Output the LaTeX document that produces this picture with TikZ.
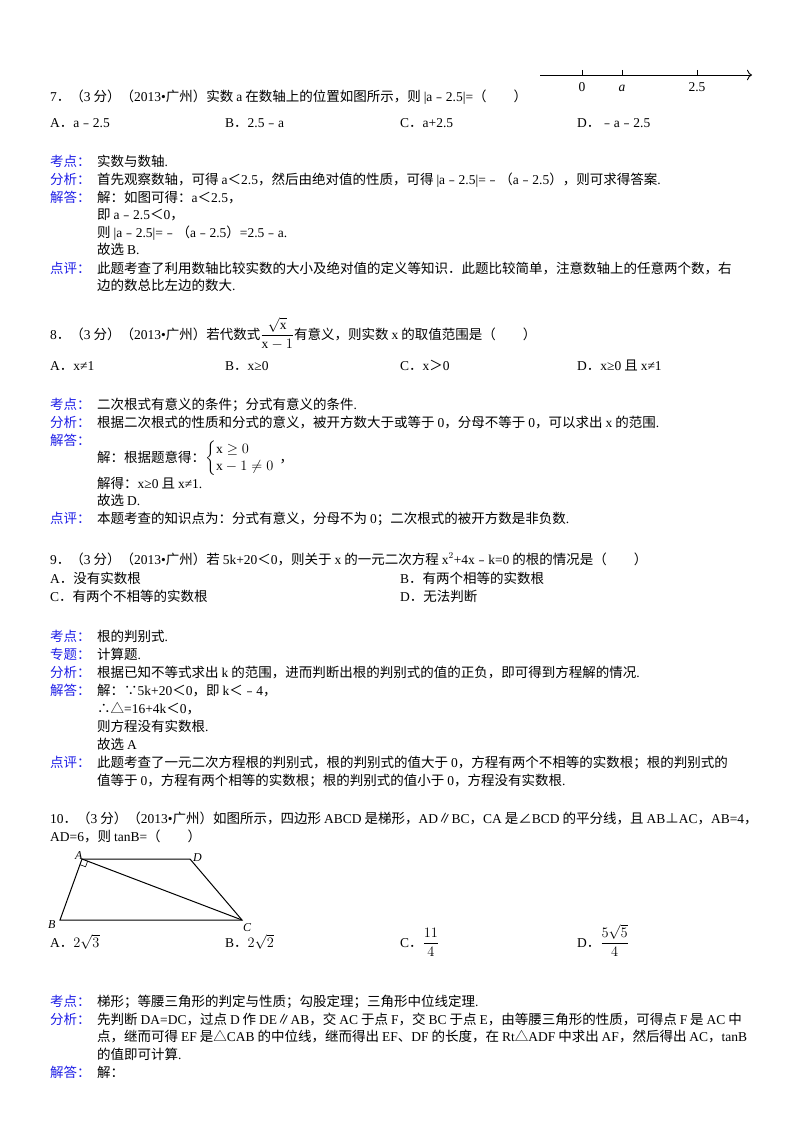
\documentclass[tikz,border=0pt]{standalone}
\usepackage{amsmath}
\usepackage{fontspec}
\usetikzlibrary{arrows.meta,calc}
\setmainfont{Liberation Serif}
\newfontfamily\cjk{Noto Sans CJK SC}
\XeTeXinterchartokenstate=1
\newXeTeXintercharclass\CJKclass
\newXeTeXintercharclass\PUclass
\newXeTeXintercharclass\PDclass
\newcount\cc
\def\setrange#1#2#3{\cc=#1 \loop\XeTeXcharclass\cc=#3\advance\cc 1 \ifnum\cc<#2\repeat}
\setrange{"4E00}{"A000}{\CJKclass}
\setrange{"3000}{"3040}{\PUclass}
\setrange{"FF00}{"FFF0}{\PUclass}
\setrange{"FE30}{"FE70}{\PUclass}
\XeTeXcharclass"2225=\PUclass \XeTeXcharclass"22A5=\PUclass \XeTeXcharclass"2220=\PUclass
\XeTeXcharclass"25B3=\PUclass \XeTeXcharclass"2234=\PUclass \XeTeXcharclass"2235=\PUclass
\XeTeXcharclass`.=\PDclass \XeTeXcharclass"2022=\PDclass
\XeTeXinterchartoks 0 \CJKclass={\hskip0.22em\cjk}
\XeTeXinterchartoks 4095 \CJKclass={\cjk}
\XeTeXinterchartoks \CJKclass 0={\rmfamily\hskip0.22em}
\XeTeXinterchartoks \CJKclass 4095={\rmfamily}
\XeTeXinterchartoks \CJKclass \PDclass={\rmfamily}
\XeTeXinterchartoks \PDclass \CJKclass={\cjk}
\XeTeXinterchartoks \PUclass \PDclass={\rmfamily}
\XeTeXinterchartoks \PDclass \PUclass={\cjk}
\XeTeXinterchartoks 0 \PUclass={\cjk}
\XeTeXinterchartoks 4095 \PUclass={\cjk}
\XeTeXinterchartoks \PUclass 0={\rmfamily}
\XeTeXinterchartoks \PUclass 4095={\rmfamily}
\definecolor{lab}{RGB}{30,30,230}
\begin{document}
\begin{tikzpicture}[x=1pt,y=-1pt,
  t/.style={anchor=base west,inner sep=0pt,font=\fontsize{13.5}{17}\selectfont},
  lb/.style={t,text=lab},
  fig/.style={line width=1pt}]
\useasboundingbox (0,0) rectangle (800,1132);
% Q7
\node[t] (q7) at (50,101) {7．（3分）（2013•广州）实数a在数轴上的位置如图所示，则|a﹣2.5|=（　　）};
\coordinate (nl0) at (540,75); \coordinate (nl1) at (752,75);
\draw[line width=0.9pt,-{To[length=5pt]}] (nl0) -- (nl1);
\foreach \xx/\ll in {582/0,622/{\itshape a},697/2.5}{\draw[line width=0.9pt] (\xx,70)--(\xx,75); \node[t,anchor=base] at (\xx,92) {\ll};}
\node[t] (o7a) at (50,127) {A．a﹣2.5};
\node[t] (o7b) at (225,127) {B．2.5﹣a};
\node[t] (o7c) at (400,127) {C．a+2.5};
\node[t] (o7d) at (577,127) {D．﹣a﹣2.5};
\node[lb] at (50,166) {考点：}; \node[t] at (97,166) {实数与数轴.};
\node[lb] at (50,184) {分析：}; \node[t] at (97,184) {首先观察数轴，可得a＜2.5，然后由绝对值的性质，可得|a﹣2.5|=﹣（a﹣2.5），则可求得答案.};
\node[lb] at (50,202) {解答：}; \node[t] at (97,202) {解：如图可得：a＜2.5，};
\node[t] at (97,219) {即a﹣2.5＜0，};
\node[t] at (97,237) {则|a﹣2.5|=﹣（a﹣2.5）=2.5﹣a.};
\node[t] at (97,254) {故选B.};
\node[lb] at (50,273) {点评：}; \node[t] at (97,273) {此题考查了利用数轴比较实数的大小及绝对值的定义等知识．此题比较简单，注意数轴上的任意两个数，右};
\node[t] at (97,290) {边的数总比左边的数大.};
% Q8
\node[t] (q8) at (50,339) {8．（3分）（2013•广州）若代数式$\dfrac{\sqrt{\mathrm{x}}}{\mathrm{x}-1}$有意义，则实数x的取值范围是（　　）};
\node[t] at (50,370) {A．x≠1}; \node[t] at (225,370) {B．x≥0}; \node[t] at (400,370) {C．x＞0}; \node[t] at (577,370) {D．x≥0且x≠1};
\node[lb] at (50,409) {考点：}; \node[t] at (97,409) {二次根式有意义的条件；分式有意义的条件.};
\node[lb] at (50,427) {分析：}; \node[t] at (97,427) {根据二次根式的性质和分式的意义，被开方数大于或等于0，分母不等于0，可以求出x的范围.};
\node[lb] at (50,445) {解答：}; \node[t] at (97,462) {解：根据题意得：$\left\{\begin{array}{@{}l}\mathrm{x}\geq 0\\ \mathrm{x}-1\neq 0\end{array}\right.$，};
\node[t] at (97,488) {解得：x≥0且x≠1.};
\node[t] at (97,505) {故选D.};
\node[lb] at (50,523) {点评：}; \node[t] at (97,523) {本题考查的知识点为：分式有意义，分母不为0；二次根式的被开方数是非负数.};
% Q9
\node[t] at (50,564) {9．（3分）（2013•广州）若5k+20＜0，则关于x的一元二次方程x$^2$+4x﹣k=0的根的情况是（　　）};
\node[t] at (50,583) {A．没有实数根}; \node[t] at (400,583) {B．有两个相等的实数根};
\node[t] at (50,601) {C．有两个不相等的实数根}; \node[t] at (400,601) {D．无法判断};
\node[lb] at (50,641) {考点：}; \node[t] at (97,641) {根的判别式.};
\node[lb] at (50,659) {专题：}; \node[t] at (97,659) {计算题.};
\node[lb] at (50,677) {分析：}; \node[t] at (97,677) {根据已知不等式求出k的范围，进而判断出根的判别式的值的正负，即可得到方程解的情况.};
\node[lb] at (50,695) {解答：}; \node[t] at (97,695) {解：∵5k+20＜0，即k＜﹣4，};
\node[t] at (97,713) {∴△=16+4k＜0，};
\node[t] at (97,731) {则方程没有实数根.};
\node[t] at (97,749) {故选A};
\node[lb] at (50,767) {点评：}; \node[t] at (97,767) {此题考查了一元二次方程根的判别式，根的判别式的值大于0，方程有两个不相等的实数根；根的判别式的};
\node[t] at (97,785) {值等于0，方程有两个相等的实数根；根的判别式的值小于0，方程没有实数根.};
% Q10
\node[t] at (50,823) {10．（3分）（2013•广州）如图所示，四边形ABCD是梯形，AD∥BC，CA是∠BCD的平分线，且AB⊥AC，AB=4，};
\node[t] at (50,841) {AD=6，则tanB=（　　）};
\coordinate (A) at (82,859); \coordinate (D) at (190,859); \coordinate (B) at (60,920); \coordinate (C) at (242,920);
\draw[fig] (A)--(D)--(C)--(B)--cycle; \draw[fig] (A)--(C);
\draw[line width=0.6pt] ($(A)!6pt!(B)$) -- ($(A)!6pt!(B)+(A)!6pt!(C)-(A)$) -- ($(A)!6pt!(C)$);
\node[t,font=\fontsize{12}{14}\selectfont\itshape] at (75,859) {A};
\node[t,font=\fontsize{12}{14}\selectfont\itshape] at (193,861) {D};
\node[t,font=\fontsize{12}{14}\selectfont\itshape] at (48,928) {B};
\node[t,font=\fontsize{12}{14}\selectfont\itshape] at (243,931) {C};
\node[t] at (50,947) {A．$2\sqrt{3}$}; \node[t] at (225,947) {B．$2\sqrt{2}$};
\node[t] at (400,947) {C．$\dfrac{11}{4}$}; \node[t] at (577,947) {D．$\dfrac{5\sqrt{5}}{4}$};
\node[lb] at (50,1006) {考点：}; \node[t] at (97,1006) {梯形；等腰三角形的判定与性质；勾股定理；三角形中位线定理.};
\node[lb] at (50,1024) {分析：}; \node[t] at (97,1024) {先判断DA=DC，过点D作DE∥AB，交AC于点F，交BC于点E，由等腰三角形的性质，可得点F是AC中};
\node[t] at (97,1041) {点，继而可得EF是△CAB的中位线，继而得出EF、DF的长度，在Rt△ADF中求出AF，然后得出AC，tanB};
\node[t] at (97,1059) {的值即可计算.};
\node[lb] at (50,1077) {解答：}; \node[t] at (97,1077) {解：};
\end{tikzpicture}
\end{document}
